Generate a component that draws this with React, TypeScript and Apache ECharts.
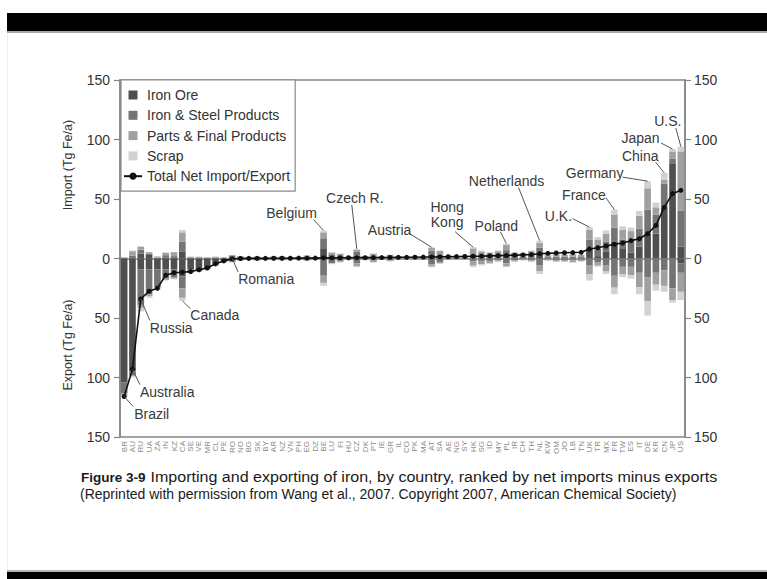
import React, { useEffect, useRef } from 'react';
import * as echarts from 'echarts';

// ---------------- DATA ----------------
const countries = [
  'BR', 'AU', 'RU', 'UA', 'ZA', 'IN', 'KZ', 'CA', 'SE', 'VE', 'MR', 'CL', 'PE', 'RO', 'NO', 'BG', 'SK',
  'BY', 'AR', 'NZ', 'VN', 'PH', 'EG', 'DZ', 'BE', 'LU', 'FI', 'HU', 'CZ', 'DK', 'PT', 'IE', 'GR', 'IL',
  'CO', 'PK', 'MA', 'AT', 'SA', 'AE', 'NG', 'SY', 'HK', 'SG', 'ID', 'MY', 'PL', 'IR', 'CH', 'TH', 'NL',
  'KW', 'OM', 'JO', 'LB', 'TN', 'UK', 'TR', 'MX', 'FR', 'TW', 'ES', 'IT', 'DE', 'KR', 'CN', 'JP', 'US',
];

// imports (Tg Fe/a), positive
const importOre = [
  0, 0, 4, 3, 0, 0.5, 0.5, 6, 0, 0, 0, 0, 0, 1, 0.5, 0.2, 0.5,
  0, 0.3, 0, 0, 0, 0, 0, 8, 1, 0.5, 0, 2.5, 0, 0, 0, 0, 0,
  0, 0, 0, 3, 0.5, 0, 0, 0, 0, 0, 0.5, 0.5, 3, 1, 0, 0.5, 4,
  0, 0, 0, 0, 0, 9, 2, 6, 14, 8, 5, 10, 21, 21, 43, 80, 10,
];
const importSteel = [
  0.5, 2.5, 3.4, 1.3, 0.7, 2.3, 1.5, 8, 0.5, 0.5, 0.5, 0.5, 0.5, 1.5, 1, 0.6, 0.8,
  0.5, 0.8, 0.8, 0.6, 0.6, 1, 0.6, 9, 2.5, 1.5, 0.8, 3, 0.8, 1.5, 0.8, 1.5, 0.8,
  0.6, 0.8, 0.6, 3.5, 2.5, 1, 0.8, 0.8, 3.5, 2.5, 2, 2.5, 4, 2, 1.5, 2.5, 5,
  1.2, 1.5, 1.5, 1.5, 1.2, 7, 6, 8, 12, 8, 10, 15, 20, 16, 20, 4, 30,
];
const importParts = [
  0.5, 3.7, 2.5, 1, 1, 2, 3.3, 8, 1, 1, 0.5, 1, 0.5, 0.5, 0.5, 0.4, 0.5,
  0.4, 0.6, 1, 0.5, 0.7, 1.5, 0.5, 5, 1.5, 2, 0.8, 2, 1.2, 2.5, 1, 1.5, 1,
  0.8, 0.6, 0.7, 2.5, 3.4, 1.5, 1, 0.8, 5, 3.5, 2.5, 3.2, 4.5, 2, 3, 3.2, 4,
  1.5, 2, 1.5, 2, 1.8, 8, 8, 7, 11, 8, 8, 11, 18, 6, 3, 6, 50,
];
const importScrap = [
  0, 0.5, 0.5, 0, 0, 0.5, 0, 2, 0, 0, 0, 0, 0, 0, 0, 0, 0,
  0, 0, 0, 0, 0, 0, 0, 1.5, 0.3, 0, 0, 0.5, 0.2, 0.3, 0, 0.4, 0,
  0, 0.2, 0, 0.5, 0.3, 0.2, 0, 0, 1, 0.7, 0.3, 0.5, 1, 0.3, 0.3, 0.5, 2,
  0.3, 0.3, 0.2, 0.3, 0.2, 2.4, 2, 2.6, 4, 3, 3, 4, 6, 4, 6, 2, 4,
];

// exports (Tg Fe/a), magnitudes (drawn downward)
const exportOre = [
  104, 95, 9, 9, 9, 9, 9, 15, 9, 9.5, 8.5, 4.5, 2, 0.2, 0.5, 0.2, 0,
  0, 0, 0.3, 0, 0, 0, 0, 0.5, 0, 0, 0, 0, 0, 0, 0, 0, 0,
  0, 0, 0, 0, 0, 0, 0, 0, 0, 0, 0, 0, 0, 0, 0, 0, 0.5,
  0, 0, 0, 0, 0, 0, 0, 0, 0.5, 0, 0, 0, 0, 0, 0, 0, 4,
];
const exportSteel = [
  9, 3, 30, 21, 15, 8, 7, 10, 2.5, 1, 0.3, 1, 0.6, 2.5, 1, 0.6, 1.2,
  0.5, 1, 0.8, 0.5, 0.4, 1.2, 0.5, 14, 3.8, 2, 0.6, 4, 0.8, 1.8, 0.5, 1.2, 0.4,
  0.2, 0.3, 0.1, 5, 3, 0.6, 0.1, 0, 2.5, 2, 2.5, 1.5, 4, 1.5, 0.8, 1.5, 5,
  0.8, 1.2, 1.2, 1.5, 1, 6, 3, 6, 14, 7, 7, 12, 16, 12, 10, 25, 8,
];
const exportParts = [
  2, 1, 2.5, 1.5, 1, 1, 1, 8, 0.5, 0.3, 0.2, 0.3, 0.3, 0.4, 0.3, 0.2, 0.3,
  0.2, 0.3, 0.3, 0.2, 0.4, 0.6, 0.2, 6, 0.5, 0.8, 0.3, 2.5, 0.4, 1.2, 0.3, 0.8, 0.3,
  0.1, 0.1, 0, 1.8, 1, 0.4, 0.1, 0, 3.5, 2.8, 1.5, 1, 2.3, 1, 0.6, 1, 5,
  0.8, 1.3, 1.3, 1.5, 1.2, 7, 3, 5, 10, 6, 7, 12, 20, 10, 13, 10, 16,
];
const exportScrap = [
  1.5, 1, 3, 1.5, 1, 0.5, 0.5, 2.5, 0.5, 0.2, 0, 0.2, 0.1, 0.2, 0.2, 0.1, 0.2,
  0.1, 0.2, 0.2, 0.2, 0.2, 0.4, 0.1, 2.5, 0.5, 0.6, 0.1, 0.8, 0.3, 0.5, 0.2, 0.5, 0.1,
  0.1, 0.1, 0, 0.7, 0.5, 0.2, 0, 0, 1.3, 1, 0.5, 0.5, 1, 0.5, 0.3, 0.5, 2.5,
  0.4, 0.5, 0.5, 0.6, 0.4, 5.5, 1, 2, 5.5, 2.7, 3, 6, 12, 5, 5, 2, 7,
];

// total net import (+) / export (-)
const netTotal = [
  -116, -93, -34, -27.5, -25, -14, -12, -11.5, -11, -9.5, -8, -4.5, -2, -0.3, 0, 0.1, 0.1,
  0.1, 0.2, 0.2, 0.2, 0.3, 0.3, 0.3, 0.5, 0.5, 0.6, 0.6, 0.7, 0.7, 0.8, 0.8, 0.9, 1,
  1, 1.1, 1.2, 1.3, 1.4, 1.5, 1.6, 1.7, 1.9, 2, 2.2, 2.4, 2.6, 2.8, 3, 3.3, 4,
  4.3, 4.6, 4.8, 5, 5.2, 8, 9, 10.5, 12, 13, 15, 16.6, 20.8, 27.8, 43, 54.5, 57.3,
];

const yTicks = { min: -150, max: 150, interval: 50 };

const seriesNames = ['Iron Ore', 'Iron & Steel Products', 'Parts & Final Products', 'Scrap'];
const lineName = 'Total Net Import/Export';

const captionLead = 'Figure 3-9';
const captionLine1 = 'Importing and exporting of iron, by country, ranked by net imports minus exports';
const captionLine2 = '(Reprinted with permission from Wang et al., 2007. Copyright 2007, American Chemical Society)';

// annotation labels: which country, where the leader line touches, text offset (px)
const annotations = [
  { label: 'Brazil', code: 'BR', anchor: 'net', dx: 10, dy: 17, lx: 9, ly: 10, align: 'left' },
  { label: 'Australia', code: 'AU', anchor: 'net', dx: 7.5, dy: 23, lx: 7.5, ly: 15.5, align: 'left' },
  { label: 'Russia', code: 'RU', anchor: 'net', dx: 9, dy: 29, lx: 9, ly: 21.5, align: 'left' },
  { label: 'Canada', code: 'CA', anchor: 'bottom', dx: 8, dy: 14, lx: 8, ly: 8, align: 'left' },
  { label: 'Romania', code: 'RO', anchor: 'zero', dx: 6, dy: 20, lx: 6, ly: 13.5, align: 'left' },
  { label: 'Belgium', code: 'BE', anchor: 'top', dx: -32, dy: -18, lx: -10, ly: -11, align: 'center' },
  { label: 'Czech R.', code: 'CZ', anchor: 'top', dx: -2, dy: -50.5, lx: -5, ly: -44, align: 'center' },
  { label: 'Austria', code: 'AT', anchor: 'top', dx: -42, dy: -17.5, lx: -22, ly: -13.5, align: 'center' },
  { label: 'Hong\nKong', code: 'HK', anchor: 'top', dx: -26, dy: -32.5, lx: -18, ly: -15.5, align: 'center' },
  { label: 'Poland', code: 'PL', anchor: 'top', dx: -10, dy: -18, lx: -6, ly: -12, align: 'center' },
  { label: 'Netherlands', code: 'NL', anchor: 'top', dx: -33, dy: -60, lx: -21, ly: -53, align: 'center' },
  { label: 'U.K.', code: 'UK', anchor: 'top', dx: -31, dy: -11.5, lx: -17, ly: -8.5, align: 'center' },
  { label: 'France', code: 'FR', anchor: 'top', dx: -30.5, dy: -14.5, lx: -8.5, ly: -12, align: 'center' },
  { label: 'Germany', code: 'DE', anchor: 'top', dx: -53, dy: -8, lx: -25, ly: -4, align: 'center' },
  { label: 'China', code: 'CN', anchor: 'top', dx: -24, dy: -16.5, lx: -8.5, ly: -10.5, align: 'center' },
  { label: 'Japan', code: 'JP', anchor: 'top', dx: -32, dy: -11.5, lx: -11.5, ly: -6, align: 'center' },
  { label: 'U.S.', code: 'US', anchor: 'top', dx: -13, dy: -25.5, lx: -5, ly: -18.5, align: 'center' },
];

// ---------------- STYLE ----------------
const FONT = "'Liberation Sans', Arial, Helvetica, sans-serif";
const AX = '#858585';
const barColors = ['#4f4f4f', '#747474', '#a0a0a0', '#d2d2d2'];
const SQUARE = 'path://M0 0H10V10H0Z';

function buildOption(): any {
  const importSets = [importOre, importSteel, importParts, importScrap];
  const exportSets = [exportOre, exportSteel, exportParts, exportScrap];
  const series: any[] = [];
  importSets.forEach((d, k) => {
    series.push({
      name: seriesNames[k], type: 'bar', stack: 'trade', data: d,
      itemStyle: { color: barColors[k] }, barCategoryGap: '20%',
      emphasis: { disabled: true },
    });
  });
  exportSets.forEach((d, k) => {
    series.push({
      name: seriesNames[k], type: 'bar', stack: 'trade', data: d.map((v) => -v),
      itemStyle: { color: barColors[k] }, barCategoryGap: '20%',
      emphasis: { disabled: true },
    });
  });
  series.push({
    name: lineName, type: 'line', data: netTotal, z: 5,
    symbol: 'circle', symbolSize: 5, showSymbol: true, showAllSymbol: true,
    lineStyle: { color: '#111', width: 1.6 }, itemStyle: { color: '#111' },
    emphasis: { disabled: true },
  });

  const yAxisBase = (position: string, margin: number) => ({
    type: 'value', position, ...yTicks,
    axisLine: { show: true, lineStyle: { color: AX, width: 1.5 } },
    axisTick: { show: true, length: 6, lineStyle: { color: AX, width: 1.2 } },
    axisLabel: {
      formatter: (v: number) => String(Math.abs(v)), fontSize: 14, color: '#333',
      fontFamily: FONT, margin,
    },
    splitLine: { show: false },
  });

  return {
    animation: false,
    backgroundColor: '#ffffff',
    textStyle: { fontFamily: FONT },
    grid: { left: 120, right: 82, top: 80, bottom: 142, show: true, borderColor: AX, borderWidth: 1.5 },
    legend: {
      orient: 'vertical', left: 121, top: 80, padding: [8, 5, 8, 2], itemGap: 6.3,
      itemWidth: 18, itemHeight: 9, backgroundColor: '#fff', borderColor: '#8a8a8a', borderWidth: 1.2,
      selectedMode: false,
      textStyle: { fontSize: 14, color: '#333', fontFamily: FONT, lineHeight: 14 },
      data: [
        ...seriesNames.map((n) => ({ name: n, icon: SQUARE })),
        { name: lineName },
      ],
    },
    xAxis: {
      type: 'category', data: countries,
      axisLine: { show: true, lineStyle: { color: AX, width: 1.5 } },
      axisTick: { show: false },
      axisLabel: { interval: 0, rotate: 90, fontSize: 8, color: '#8a8a8a', margin: 4, fontFamily: FONT },
      splitLine: { show: false },
    },
    yAxis: [yAxisBase('left', 10), yAxisBase('right', 9)],
    series,
  };
}

function measure(text: string, font: string): number {
  try {
    const ctx = document.createElement('canvas').getContext('2d');
    if (!ctx) return 0;
    ctx.font = font;
    return ctx.measureText(text).width;
  } catch (e) {
    return 0;
  }
}

function textEl(text: string, x: number, y: number, font: string, align: string, extra: any = {}) {
  return {
    type: 'text', x, y, ...extra,
    style: {
      text, fill: '#1a1a1a', font, align, verticalAlign: 'middle',
      textAlign: align, textVerticalAlign: 'middle', ...(extra.style || {}),
    },
  };
}

function staticGraphics(): any[] {
  const capFont = `14px ${FONT}`;
  const leadFont = `bold 13.5px ${FONT}`;
  const leadX = 81;
  const restX = leadX + measure(captionLead, leadFont) + 5;
  // line 1 is justified in the original: stretch it to the same right edge
  const natural = measure(captionLine1, capFont);
  const target = 718 - restX;
  const sx = natural > 0 ? Math.max(1, Math.min(1.2, target / natural)) : 1;
  const axisTitleStyle = { fill: '#333' };
  return [
    { type: 'rect', shape: { x: 7, y: 13, width: 760, height: 18 }, style: { fill: '#000' }, z: 20 },
    { type: 'rect', shape: { x: 7, y: 31, width: 760, height: 2 }, style: { fill: '#a8a8a8' }, z: 20 },
    { type: 'rect', shape: { x: 7, y: 570, width: 760, height: 2 }, style: { fill: '#b5b5b5' }, z: 20 },
    { type: 'rect', shape: { x: 7, y: 572, width: 760, height: 7 }, style: { fill: '#000' }, z: 20 },
    { type: 'rect', shape: { x: 7, y: 33, width: 1, height: 537 }, style: { fill: '#ededed' }, z: 20 },
    textEl('Import (Tg Fe/a)', 68, 165, `12.5px ${FONT}`, 'center', { rotation: Math.PI / 2, style: axisTitleStyle }),
    textEl('Export (Tg Fe/a)', 68, 345, `12.5px ${FONT}`, 'center', { rotation: Math.PI / 2, style: axisTitleStyle }),
    textEl(captionLead, leadX, 477, leadFont, 'left'),
    textEl(captionLine1, restX, 477, capFont, 'left', { scaleX: sx }),
    textEl(captionLine2, 80, 494, capFont, 'left'),
  ];
}

function anchorValue(i: number, kind: string): number {
  if (kind === 'top') return importOre[i] + importSteel[i] + importParts[i] + importScrap[i];
  if (kind === 'bottom') return -(exportOre[i] + exportSteel[i] + exportParts[i] + exportScrap[i]);
  if (kind === 'net') return netTotal[i];
  return 0;
}

function annotationGraphics(chart: any): any[] {
  const out: any[] = [];
  annotations.forEach((a) => {
    const i = countries.indexOf(a.code);
    if (i < 0) return;
    const p = chart.convertToPixel({ gridIndex: 0 }, [i, anchorValue(i, a.anchor)]);
    if (!p) return;
    const [ax, ay] = p;
    out.push({
      type: 'line', z: 15,
      shape: { x1: ax + a.lx, y1: ay + a.ly, x2: ax, y2: ay },
      style: { stroke: '#555', lineWidth: 1 },
    });
    out.push({
      type: 'text', z: 15, x: ax + a.dx, y: ay + a.dy,
      style: {
        text: a.label, fill: '#3a3a3a', font: `14px ${FONT}`, lineHeight: 15,
        align: a.align, verticalAlign: 'middle', textAlign: a.align, textVerticalAlign: 'middle',
      },
    });
  });
  return out;
}

export default function App() {
  const ref = useRef<HTMLDivElement>(null);
  useEffect(() => {
    if (!ref.current) return;
    const chart = echarts.init(ref.current, null, { renderer: 'svg' });
    chart.setOption(buildOption());
    const elements = [...staticGraphics(), ...annotationGraphics(chart)];
    chart.setOption({ graphic: elements });
    return () => chart.dispose();
  }, []);
  return (
    <div style={{ position: 'fixed', left: 0, top: 0, width: 767, height: 579, background: '#fff' }}>
      <div ref={ref} style={{ width: 767, height: 579 }} />
    </div>
  );
}
